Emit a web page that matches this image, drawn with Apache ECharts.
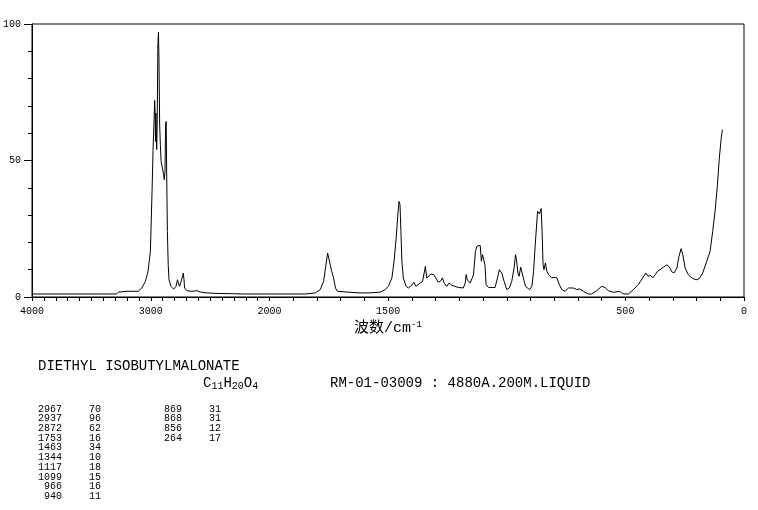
<!DOCTYPE html>
<html><head><meta charset="utf-8">
<script src="https://cdn.jsdelivr.net/npm/echarts@6/dist/echarts.min.js"></script>
<style>html,body{margin:0;padding:0;background:#fff}#c{width:758px;height:510px}</style>
</head><body><div id="c"></div>
<script>
// Raman spectrum, 4000-2000 cm-1 section (compressed scale)
const leftWn = [4000,3400,3290,3270,3200,3105,3075,3045,3023,3003,2989,2981,2972,2967,2963,2960,2957,2950,2946,2940,2935,2931,2925,2919,2913,2905,2898,2892,2886,2880,2875,2870,2866,2860,2853,2846,2830,2807,2787,2775,2768,2757,2745,2732,2726,2720,2715,2695,2653,2611,2580,2527,2443,2303,2218,2000];
const leftI  = [1.1,1.1,1.1,1.8,2.1,2.1,3.3,5.7,9.4,16.7,38.7,53.4,65,72,66.8,57,67.4,54,63,92.4,97,87.5,63,55.8,49.7,47.9,48.5,44.8,43,46,63,64.3,45.7,24,11.8,6.3,3.9,2.9,3.9,6.3,5.1,3.9,3.9,7.6,8.8,6.3,3.3,2.3,2.1,2.3,1.8,1.5,1.3,1.2,1.1,1.1];
// 2000-0 cm-1 section
const rightWn = [2000,1850,1807,1786,1772,1762,1755,1752,1749,1744,1738,1730,1722,1714,1674,1618,1576,1533,1513,1499,1484,1475,1466,1458,1454,1450,1446,1442,1436,1424,1415,1400,1392,1383,1375,1365,1355,1348,1343,1337,1330,1320,1308,1299,1290,1280,1271,1264,1253,1243,1232,1218,1204,1183,1175,1171,1166,1154,1140,1132,1126,1119,1112,1107,1102,1097,1092,1087,1077,1049,1039,1031,1021,1011,1000,989,979,969,963,959,953,948,941,935,930,921,904,894,887,878,870,866,862,855,851,847,843,837,831,824,817,811,800,789,778,768,754,740,719,705,694,677,657,643,621,600,585,572,550,525,515,506,487,466,446,427,414,404,393,385,374,365,354,340,325,314,304,295,283,274,265,258,248,235,220,202,189,174,157,143,132,122,112,104,96,91];
const rightI  = [1.1,1.1,1.5,2.7,5.7,11.8,16.1,16.5,15.5,11.8,9.4,7,3.3,2.1,1.8,1.5,1.5,1.8,2.7,3.9,7,13.1,21.6,31.4,35,33.8,24,13.1,7,3.9,3.3,4.3,5.4,3.9,4.3,5.1,5.7,8.8,11.2,7,6.3,8.4,8.2,7,5.5,5.7,7,5.1,3.9,5.1,4.3,3.9,3.5,3.3,5.1,8.2,6.3,5.1,8.2,16.7,18.6,18.2,18.9,13.1,15.5,15.8,11.8,4.5,3.5,3.5,7,10,8.8,5.7,2.7,3.3,5.7,10.6,15.5,13.7,8.8,7.6,10.9,11.2,7,3.9,2.7,3.9,9.4,21.6,31.4,32,30.4,32.4,24,11.8,10,12.5,9.4,8.2,8.8,7,7.2,7,4.5,2.7,2.1,3.3,3.3,2.7,3,2.1,1.1,1.1,2.3,3.9,3.5,2.3,1.7,2.1,1.5,1.1,1.1,2.7,4.5,7,8.8,7.6,7.9,7,8.2,9.4,10,10.9,11.8,10.9,9.2,8.8,10.6,14.9,17.7,15.5,10.6,8.2,7,6.3,6.7,8.8,13.1,16.7,24,31.4,41.1,50.9,58.2,61.3];

const yLabels = [0, 50, 100];
const xLabelsLeft = [4000, 3000, 2000];
const xLabelsRight = [1500, 500, 0];

const compoundName = 'DIETHYL ISOBUTYLMALONATE';
const formulaRich = 'C{s|11}H{s|20}O{s|4}';
const sampleInfo = 'RM-01-03009 : 4880A.200M.LIQUID';
const peakWnA = ['2967','2937','2872','1753','1463','1344','1117','1099','966','940'];
const peakIntA = ['70','96','62','16','34','10','18','15','16','11'];
const peakWnB = ['869','868','856','264'];
const peakIntB = ['31','31','12','17'];

const chart = echarts.init(document.getElementById('c'), null, {renderer: 'canvas'});
const mono = '"Liberation Mono","DejaVu Sans Mono",monospace';
const tickFont = {fontSize: 10, fontFamily: mono, color: '#000', formatter: v => String(v)};

const graphics = [];
graphics.push({type: 'text', x: 38, y: 366, style: {text: compoundName, font: '14px ' + mono, fill: '#000', verticalAlign: 'middle'}});
graphics.push({type: 'text', x: 203, y: 383, style: {text: formulaRich, font: '14px ' + mono, fill: '#000', verticalAlign: 'middle',
  rich: {s: {fontSize: 10, fontFamily: mono, verticalAlign: 'bottom', padding: [6, 0, 0, 0]}}}});
graphics.push({type: 'text', x: 330, y: 383, style: {text: sampleInfo, font: '14px ' + mono, fill: '#000', verticalAlign: 'middle'}});
const rowTop = 409, rowStep = 9.7;
peakWnA.forEach((w, i) => {
  graphics.push({type: 'text', x: 62, y: rowTop + i * rowStep, style: {text: w, font: '10px ' + mono, fill: '#000', align: 'right', verticalAlign: 'middle'}});
  graphics.push({type: 'text', x: 101, y: rowTop + i * rowStep, style: {text: peakIntA[i], font: '10px ' + mono, fill: '#000', align: 'right', verticalAlign: 'middle'}});
});
peakWnB.forEach((w, i) => {
  graphics.push({type: 'text', x: 182, y: rowTop + i * rowStep, style: {text: w, font: '10px ' + mono, fill: '#000', align: 'right', verticalAlign: 'middle'}});
  graphics.push({type: 'text', x: 221, y: rowTop + i * rowStep, style: {text: peakIntB[i], font: '10px ' + mono, fill: '#000', align: 'right', verticalAlign: 'middle'}});
});

const gTop = 24, gH = 273;
const option = {
  animation: false,
  backgroundColor: '#fff',
  grid: [
    {left: 32, top: gTop, width: 712, height: gH, show: true, borderColor: '#000', borderWidth: 1, backgroundColor: 'transparent'},
    {left: 32, top: gTop, width: 237.5, height: gH},
    {left: 269.5, top: gTop, width: 474.5, height: gH}
  ],
  xAxis: [
    {gridIndex: 0, type: 'value', min: 0, max: 1, axisLine: {show: false}, axisTick: {show: false}, axisLabel: {show: false}, splitLine: {show: false},
     name: '波数/cm{sup|-1}', nameLocation: 'middle', nameGap: 23,
     nameTextStyle: {fontSize: 15, fontFamily: '"Liberation Mono","Noto Sans CJK SC"', color: '#000',
       rich: {sup: {fontSize: 9, fontFamily: mono, verticalAlign: 'top', padding: [0, 0, 8, 0]}}}},
    {gridIndex: 1, type: 'value', min: 2000, max: 4000, interval: 100, inverse: true,
     axisLine: {lineStyle: {color: '#000', width: 1}}, axisTick: {length: 4, lineStyle: {color: '#000'}},
     axisLabel: {customValues: xLabelsLeft, margin: 9, ...tickFont}, splitLine: {show: false}},
    {gridIndex: 2, type: 'value', min: 0, max: 2000, interval: 100, inverse: true,
     axisLine: {lineStyle: {color: '#000', width: 1}}, axisTick: {length: 4, lineStyle: {color: '#000'}},
     axisLabel: {customValues: xLabelsRight, margin: 9, ...tickFont}, splitLine: {show: false}}
  ],
  yAxis: [
    {gridIndex: 0, type: 'value', min: 0, max: 1, show: false},
    {gridIndex: 1, type: 'value', min: 0, max: 100, interval: 50,
     axisLine: {show: true, lineStyle: {color: '#000', width: 1}},
     axisTick: {show: true, length: 8, lineStyle: {color: '#000'}},
     minorTick: {show: true, splitNumber: 5, length: 4, lineStyle: {color: '#000'}},
     axisLabel: {customValues: yLabels, margin: 11, ...tickFont}, splitLine: {show: false}, minorSplitLine: {show: false}},
    {gridIndex: 2, type: 'value', min: 0, max: 100, show: false}
  ],
  series: [
    {type: 'line', xAxisIndex: 1, yAxisIndex: 1, symbol: 'none', silent: true,
     lineStyle: {color: '#000', width: 1}, data: leftWn.map((w, i) => [w, leftI[i]])},
    {type: 'line', xAxisIndex: 2, yAxisIndex: 2, symbol: 'none', silent: true,
     lineStyle: {color: '#000', width: 1}, data: rightWn.map((w, i) => [w, rightI[i]])}
  ],
  graphic: graphics
};
chart.setOption(option);
</script></body></html>
